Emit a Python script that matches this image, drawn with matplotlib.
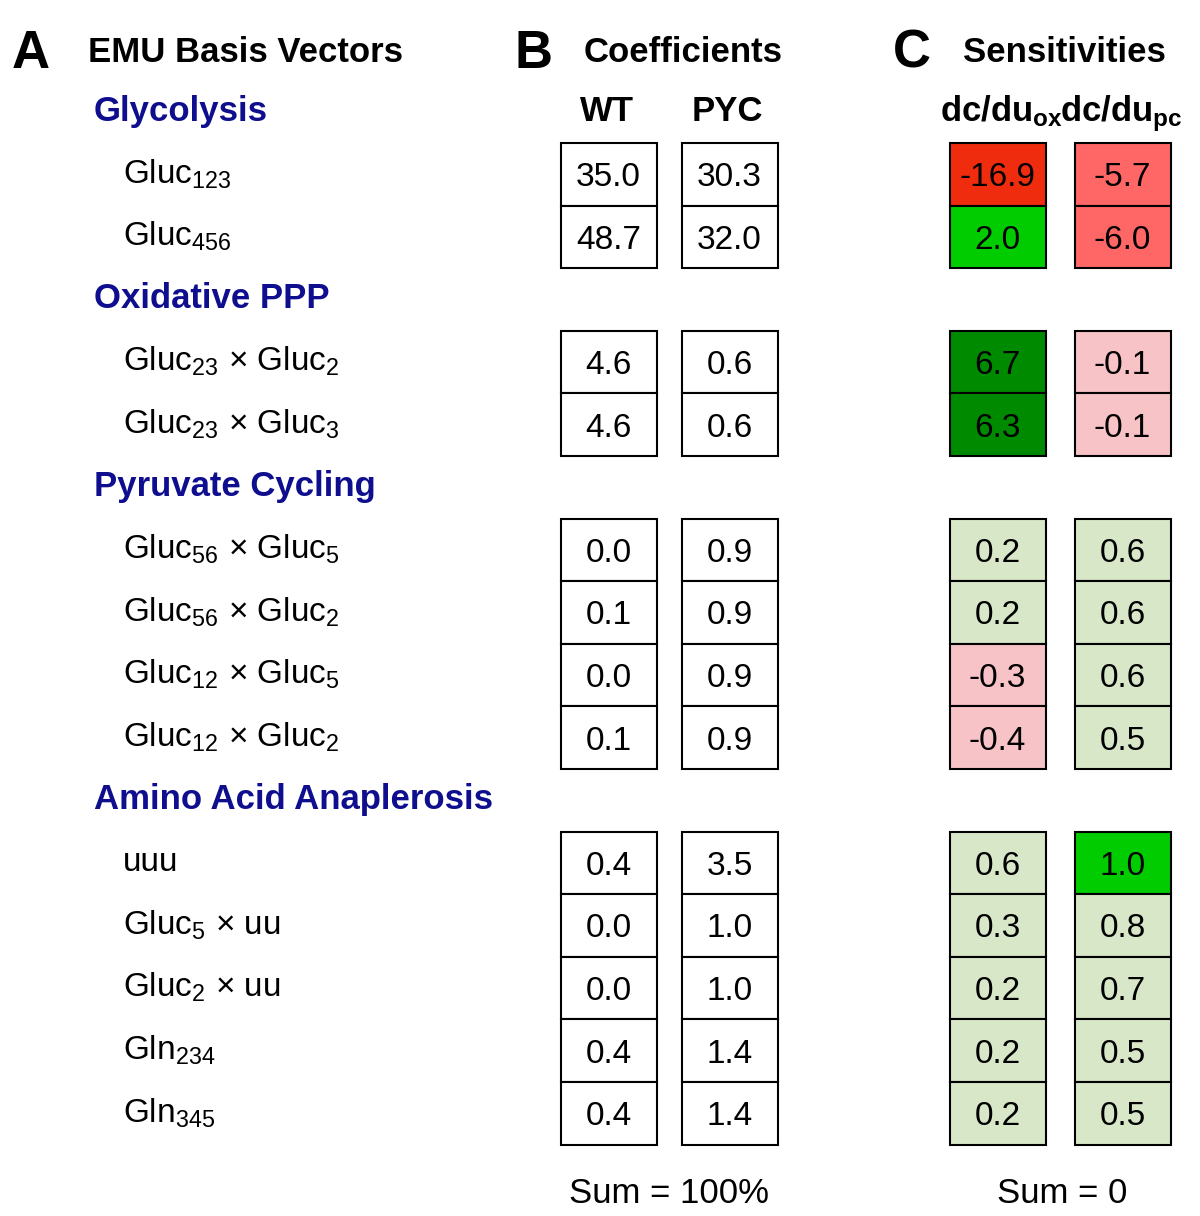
import numpy as np
import matplotlib.pyplot as plt

plt.rcParams["font.family"] = ["Liberation Sans", "DejaVu Sans"]
plt.rcParams["mathtext.fontset"] = "custom"
plt.rcParams["mathtext.rm"] = "Liberation Sans"
plt.rcParams["mathtext.it"] = "Liberation Sans"
plt.rcParams["mathtext.bf"] = "Liberation Sans:bold"

# ---------------------------------------------------------------------------
# Data
# ---------------------------------------------------------------------------
groups = ["Glycolysis", "Oxidative PPP", "Pyruvate Cycling",
          "Amino Acid Anaplerosis"]
group_sizes = [2, 2, 4, 5]
basis_labels = [
    r"Gluc$_{123}$", r"Gluc$_{456}$",
    r"Gluc$_{23}$ × Gluc$_{2}$", r"Gluc$_{23}$ × Gluc$_{3}$",
    r"Gluc$_{56}$ × Gluc$_{5}$", r"Gluc$_{56}$ × Gluc$_{2}$",
    r"Gluc$_{12}$ × Gluc$_{5}$", r"Gluc$_{12}$ × Gluc$_{2}$",
    "uuu", r"Gluc$_{5}$ × uu", r"Gluc$_{2}$ × uu",
    r"Gln$_{234}$", r"Gln$_{345}$",
]
wt = [35.0, 48.7, 4.6, 4.6, 0.0, 0.1, 0.0, 0.1, 0.4, 0.0, 0.0, 0.4, 0.4]
pyc = [30.3, 32.0, 0.6, 0.6, 0.9, 0.9, 0.9, 0.9, 3.5, 1.0, 1.0, 1.4, 1.4]
dc_ox = [-16.9, 2.0, 6.7, 6.3, 0.2, 0.2, -0.3, -0.4, 0.6, 0.3, 0.2, 0.2, 0.2]
dc_pc = [-5.7, -6.0, -0.1, -0.1, 0.6, 0.6, 0.6, 0.5, 1.0, 0.8, 0.7, 0.5, 0.5]

coef_headers = ["WT", "PYC"]
sens_headers = [r"dc/du$_{\mathbf{ox}}$", r"dc/du$_{\mathbf{pc}}$"]


def sens_color(v):
    if v >= 5:
        return "#008A00"
    if v >= 1:
        return "#00CC00"
    if v >= 0:
        return "#D9E7C9"
    if v > -1:
        return "#F7C3C6"
    if v > -10:
        return "#FF6666"
    return "#F02C0E"


# ---------------------------------------------------------------------------
# Layout (pixel units)
# ---------------------------------------------------------------------------
W, H = 1200, 1216
slot0, pitch = 111.6, 62.6
cell_w = 96
col_x = {"wt": 608.5, "pyc": 729.5, "ox": 997.5, "pc": 1122.5}

fig = plt.figure(figsize=(W / 100, H / 100), dpi=100)
ax = fig.add_axes([0, 0, 1, 1])
ax.set_xlim(0, W)
ax.set_ylim(H, 0)
ax.axis("off")

navy = "#0E0E8E"
bold_fs = 25

# panel headings
for letter, lx, title, tx in [("A", 12, "EMU Basis Vectors", 88),
                              ("B", 515, "Coefficients", 584),
                              ("C", 893, "Sensitivities", 963)]:
    ax.text(lx, 48, letter, fontsize=38, fontweight="bold",
            va="center_baseline", ha="left")
    ax.text(tx, 49, title, fontsize=bold_fs, fontweight="bold",
            va="center_baseline", ha="left")

for name, key in zip(coef_headers, ["wt", "pyc"]):
    ax.text(col_x[key] - 2, slot0 - 4, name, fontsize=bold_fs,
            fontweight="bold", ha="center", va="center_baseline")
ax.text(940, slot0 - 4, sens_headers[0], fontsize=bold_fs, fontweight="bold",
        ha="left", va="center_baseline")
ax.text(1183, slot0 - 4, sens_headers[1], fontsize=bold_fs, fontweight="bold",
        ha="right", va="center_baseline")

# rows
slot = 0
row = 0
for g, n in zip(groups, group_sizes):
    y_head = slot0 + slot * pitch
    ax.text(94, y_head - 4, g, fontsize=bold_fs, fontweight="bold",
            color=navy, ha="left", va="center_baseline")
    slot += 1
    for i in range(n):
        yc = slot0 + slot * pitch
        ax.text(123, yc - 4, basis_labels[row], fontsize=24, ha="left",
                va="center_baseline")
        cells = [("wt", wt[row], "white"), ("pyc", pyc[row], "white"),
                 ("ox", dc_ox[row], sens_color(dc_ox[row])),
                 ("pc", dc_pc[row], sens_color(dc_pc[row]))]
        for key, v, fc in cells:
            ax.bar(col_x[key], pitch, bottom=yc - pitch / 2, width=cell_w,
                   color=fc, edgecolor="black", linewidth=1.5, zorder=2)
            ax.text(col_x[key], yc, f"{v:.1f}", fontsize=24, ha="center",
                    va="center_baseline", zorder=3)
        slot += 1
        row += 1

ax.text(669, 1190, "Sum = 100%", fontsize=25, ha="center",
        va="center_baseline")
ax.text(1062, 1190, "Sum = 0", fontsize=25, ha="center",
        va="center_baseline")

fig.savefig("out.png", dpi=100)
